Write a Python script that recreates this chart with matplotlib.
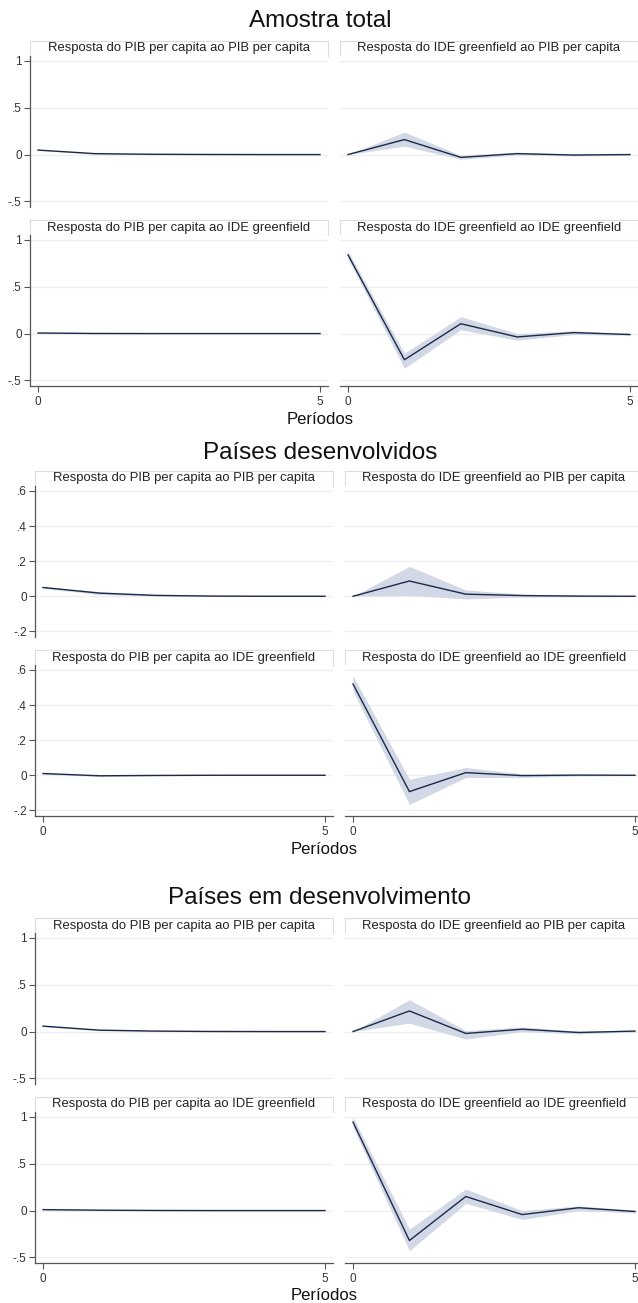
import matplotlib
matplotlib.use("Agg")
import matplotlib.pyplot as plt

plt.rcParams['font.family'] = ['Liberation Sans', 'DejaVu Sans']

periods = [0, 1, 2, 3, 4, 5]

section_titles = ["Amostra total", "Países desenvolvidos", "Países em desenvolvimento"]
panel_titles = ["Resposta do PIB per capita ao PIB per capita",
                "Resposta do IDE greenfield ao PIB per capita",
                "Resposta do PIB per capita ao IDE greenfield",
                "Resposta do IDE greenfield ao IDE greenfield"]
xlabel = "Períodos"

# ---- Amostra total ----
tot_pib_pib = [0.048, 0.010, 0.003, 0.001, 0.000, 0.000]
tot_pib_pib_lo = [0.043, 0.005, 0.000, -0.001, -0.001, -0.001]
tot_pib_pib_hi = [0.053, 0.015, 0.006, 0.003, 0.001, 0.001]
tot_ide_pib = [0.000, 0.160, -0.030, 0.010, -0.005, 0.000]
tot_ide_pib_lo = [0.000, 0.090, -0.050, -0.005, -0.015, -0.008]
tot_ide_pib_hi = [0.000, 0.240, -0.008, 0.025, 0.005, 0.008]
tot_pib_ide = [0.006, 0.001, 0.000, 0.000, 0.000, 0.000]
tot_pib_ide_lo = [0.002, -0.003, -0.002, -0.001, -0.001, -0.001]
tot_pib_ide_hi = [0.010, 0.005, 0.002, 0.001, 0.001, 0.001]
tot_ide_ide = [0.840, -0.280, 0.105, -0.036, 0.010, -0.010]
tot_ide_ide_lo = [0.800, -0.370, 0.040, -0.070, -0.010, -0.020]
tot_ide_ide_hi = [0.880, -0.210, 0.180, 0.000, 0.030, 0.000]

# ---- Países desenvolvidos ----
dev_pib_pib = [0.050, 0.018, 0.005, 0.001, 0.000, 0.000]
dev_pib_pib_lo = [0.045, 0.010, 0.001, -0.001, -0.001, -0.001]
dev_pib_pib_hi = [0.055, 0.026, 0.009, 0.003, 0.001, 0.001]
dev_ide_pib = [0.000, 0.087, 0.012, 0.004, 0.001, 0.000]
dev_ide_pib_lo = [0.000, 0.005, -0.015, -0.005, -0.003, -0.002]
dev_ide_pib_hi = [0.000, 0.170, 0.036, 0.012, 0.005, 0.002]
dev_pib_ide = [0.010, -0.003, -0.001, 0.000, 0.000, 0.000]
dev_pib_ide_lo = [0.006, -0.007, -0.003, -0.001, -0.001, -0.001]
dev_pib_ide_hi = [0.014, 0.001, 0.001, 0.001, 0.001, 0.001]
dev_ide_ide = [0.520, -0.093, 0.015, -0.002, 0.001, 0.000]
dev_ide_ide_lo = [0.480, -0.166, -0.013, -0.012, -0.004, -0.002]
dev_ide_ide_hi = [0.567, -0.023, 0.044, 0.008, 0.005, 0.002]

# ---- Países em desenvolvimento ----
emd_pib_pib = [0.058, 0.015, 0.005, 0.001, 0.000, 0.000]
emd_pib_pib_lo = [0.052, 0.009, 0.001, -0.002, -0.002, -0.001]
emd_pib_pib_hi = [0.064, 0.021, 0.009, 0.004, 0.002, 0.001]
emd_ide_pib = [0.000, 0.220, -0.020, 0.025, -0.010, 0.005]
emd_ide_pib_lo = [0.000, 0.090, -0.080, 0.000, -0.025, -0.005]
emd_ide_pib_hi = [0.000, 0.340, 0.010, 0.050, 0.005, 0.015]
emd_pib_ide = [0.010, 0.004, 0.001, 0.000, 0.000, 0.000]
emd_pib_ide_lo = [0.005, 0.000, -0.002, -0.002, -0.001, -0.001]
emd_pib_ide_hi = [0.015, 0.008, 0.004, 0.002, 0.001, 0.001]
emd_ide_ide = [0.945, -0.320, 0.150, -0.043, 0.030, -0.010]
emd_ide_ide_lo = [0.890, -0.430, 0.076, -0.095, 0.000, -0.025]
emd_ide_ide_hi = [1.000, -0.200, 0.230, 0.000, 0.050, 0.005]

yticks_a = [-0.5, 0, 0.5, 1]
ylabels_a = ["-.5", "0", ".5", "1"]
yticks_b = [-0.2, 0, 0.2, 0.4, 0.6]
ylabels_b = ["-.2", "0", ".2", ".4", ".6"]
xticks = [0, 5]
xticklabels = ["0", "5"]

sections = [
    dict(title=section_titles[0], yticks=yticks_a, ylabels=ylabels_a,
         panels=[(tot_pib_pib, tot_pib_pib_lo, tot_pib_pib_hi),
                 (tot_ide_pib, tot_ide_pib_lo, tot_ide_pib_hi),
                 (tot_pib_ide, tot_pib_ide_lo, tot_pib_ide_hi),
                 (tot_ide_ide, tot_ide_ide_lo, tot_ide_ide_hi)]),
    dict(title=section_titles[1], yticks=yticks_b, ylabels=ylabels_b,
         panels=[(dev_pib_pib, dev_pib_pib_lo, dev_pib_pib_hi),
                 (dev_ide_pib, dev_ide_pib_lo, dev_ide_pib_hi),
                 (dev_pib_ide, dev_pib_ide_lo, dev_pib_ide_hi),
                 (dev_ide_ide, dev_ide_ide_lo, dev_ide_ide_hi)]),
    dict(title=section_titles[2], yticks=yticks_a, ylabels=ylabels_a,
         panels=[(emd_pib_pib, emd_pib_pib_lo, emd_pib_pib_hi),
                 (emd_ide_pib, emd_ide_pib_lo, emd_ide_pib_hi),
                 (emd_pib_ide, emd_pib_ide_lo, emd_pib_ide_hi),
                 (emd_ide_ide, emd_ide_ide_lo, emd_ide_ide_hi)]),
]

# layout (pixels)
W, H = 638, 1303
layout = [
    dict(title_y=21, top_box=41, bot_box=220, xl=30, xr=340, xlab_y=420, xlab_x=320),
    dict(title_y=453, top_box=471, bot_box=650, xl=35, xr=345, xlab_y=850, xlab_x=324),
    dict(title_y=898, top_box=918, bot_box=1097, xl=35, xr=345, xlab_y=1296, xlab_x=324),
]
BOX_H = 15
PLOT_H = 151
PLOT_W = 298

LINE = '#1b2a47'
BAND = '#d3d8e6'
AXIS = '#555555'
GRID = '#eeeeee'

fig = plt.figure(figsize=(W / 100, H / 100), dpi=100)
fig.patch.set_facecolor('white')


def ax_px(x0, y0, w, h):
    return fig.add_axes([x0 / W, 1 - (y0 + h) / H, w / W, h / H])


for sec, lay in zip(sections, layout):
    fig.text(320 / W, 1 - lay['title_y'] / H, sec['title'], ha='center', va='center',
             fontsize=17.5, color='#111111')
    fig.text(lay['xlab_x'] / W, 1 - lay['xlab_y'] / H, xlabel, ha='center', va='center',
             fontsize=12, color='#111111')
    yt = sec['yticks']
    rng = yt[-1] - yt[0]
    ylim = (yt[0] - 0.04 * rng, yt[-1] + 0.035 * rng)
    for i, (irf, lo, hi) in enumerate(sec['panels']):
        row, col = divmod(i, 2)
        x0 = lay['xl'] if col == 0 else lay['xr']
        box_top = lay['top_box'] if row == 0 else lay['bot_box']
        # title box
        tb = ax_px(x0, box_top, PLOT_W, BOX_H)
        tb.set_xticks([]); tb.set_yticks([])
        for s in tb.spines.values():
            s.set_color('#dddddd'); s.set_linewidth(0.8)
        tb.text(0.5, 0.5, panel_titles[i], ha='center', va='center',
                fontsize=9.4, color='#222222', transform=tb.transAxes)
        # plot
        ax = ax_px(x0, box_top + BOX_H, PLOT_W, PLOT_H)
        ax.fill_between(periods, lo, hi, color=BAND, lw=0)
        ax.plot(periods, irf, color=LINE, lw=1.0)
        ax.set_xlim(-0.142, 5.142)
        ax.set_ylim(*ylim)
        ax.set_yticks(yt)
        ax.grid(axis='y', color=GRID, lw=0.9)
        ax.set_axisbelow(True)
        for s in ['top', 'right']:
            ax.spines[s].set_visible(False)
        if col == 0:
            ax.spines['left'].set_color(AXIS)
            ax.spines['left'].set_linewidth(0.9)
            ax.set_yticklabels(sec['ylabels'])
            ax.tick_params(axis='y', length=4, width=0.8, color=AXIS,
                           labelsize=8.5, labelcolor='#333333', pad=2)
        else:
            ax.spines['left'].set_visible(False)
            ax.tick_params(axis='y', length=0, labelleft=False)
        if row == 1:
            ax.spines['bottom'].set_color(AXIS)
            ax.spines['bottom'].set_linewidth(0.9)
            ax.set_xticks(xticks)
            ax.set_xticklabels(xticklabels)
            ax.tick_params(axis='x', length=4, width=0.8, color=AXIS,
                           labelsize=8.5, labelcolor='#333333', pad=3)
        else:
            ax.spines['bottom'].set_visible(False)
            ax.set_xticks([])

fig.savefig('out.png', dpi=100, facecolor='white')
